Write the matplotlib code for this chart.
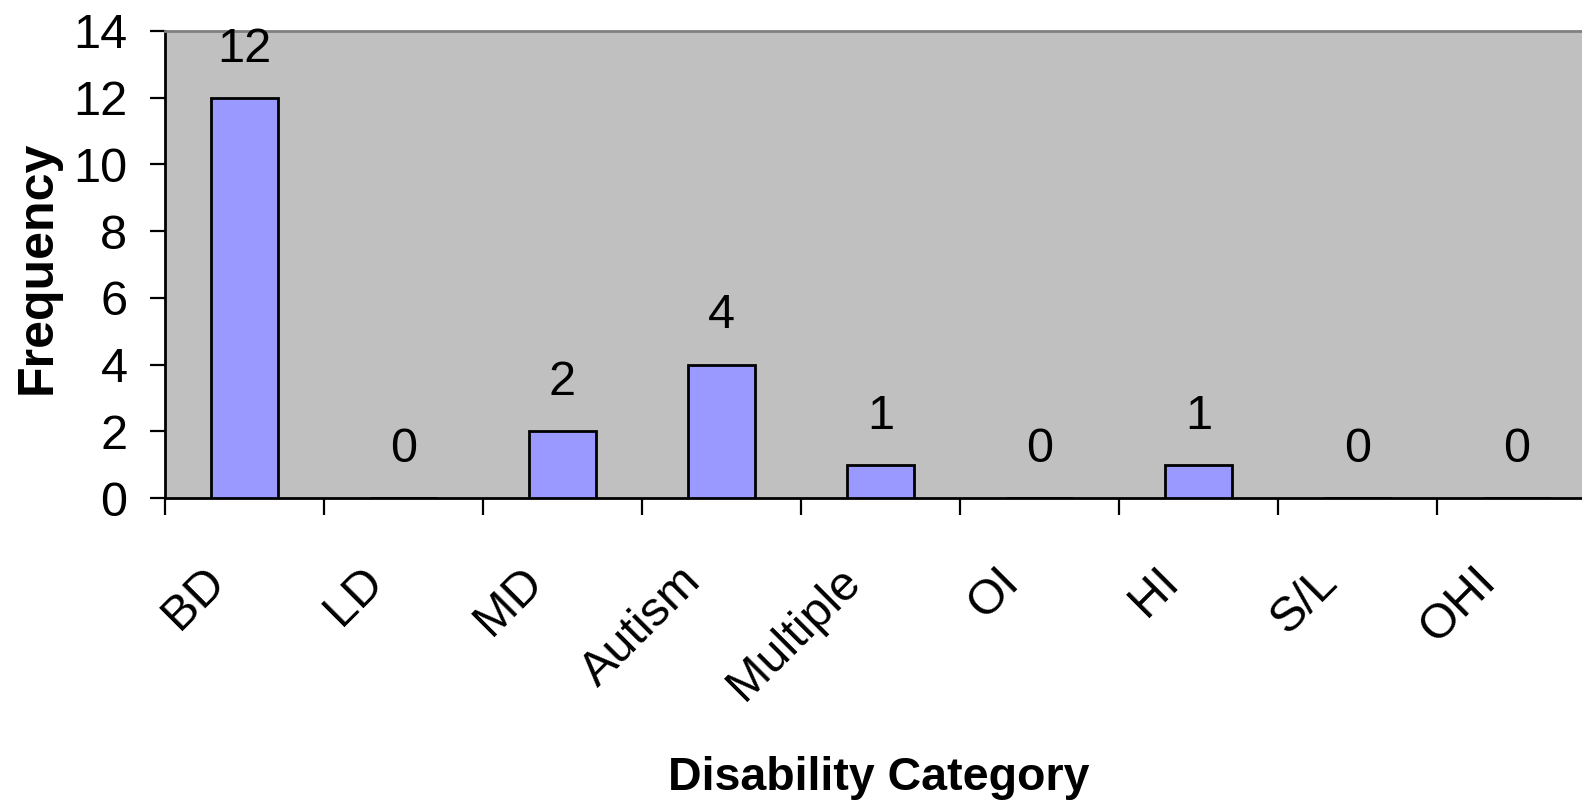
import matplotlib
matplotlib.use("Agg")
import matplotlib.pyplot as plt
from matplotlib.transforms import ScaledTranslation
import numpy as np

categories = ["BD", "LD", "MD", "Autism", "Multiple", "OI", "HI", "S/L", "OHI"]
frequency = [12, 0, 2, 4, 1, 0, 1, 0, 0]
y_ticks = [0, 2, 4, 6, 8, 10, 12, 14]

plt.rcParams['font.family'] = ['Liberation Sans', 'DejaVu Sans']

W, H = 1582, 802
fig = plt.figure(figsize=(W / 100, H / 100), dpi=100)
left_px, top_px, bottom_px, right_px = 165, 31, 498, 1596
ax = fig.add_axes([left_px / W, 1 - bottom_px / H, (right_px - left_px) / W, (bottom_px - top_px) / H])
ax.set_facecolor('#C0C0C0')

x = np.arange(len(categories))
ax.bar(x, frequency, width=0.42, color='#9999FF', edgecolor='black', linewidth=2.0, zorder=3)

for xi, v in zip(x, frequency):
    ax.annotate(str(v), xy=(xi, v), xytext=(0, 26), textcoords='offset points',
                ha='center', va='baseline', fontsize=35, color='black')

ax.set_xlim(-0.5, len(categories) - 0.5)
ax.set_ylim(0, 14)
ax.set_yticks(y_ticks)
ax.tick_params(axis='y', length=11, width=1.6, pad=16, labelsize=35, direction='out')

ax.set_xticks(x)
ax.set_xticklabels(categories)
ax.set_xticks(np.arange(len(categories) + 1) - 0.5, minor=True)
ax.tick_params(axis='x', which='major', length=0, pad=55, labelsize=35)
ax.tick_params(axis='x', which='minor', length=12, width=1.6, direction='out')
offset = ScaledTranslation(-0.27, 0, fig.dpi_scale_trans)
for lab in ax.get_xticklabels():
    lab.set_rotation(45)
    lab.set_ha('right')
    lab.set_va('center')
    lab.set_rotation_mode('anchor')
    lab.set_transform(lab.get_transform() + offset)

for s in ['left', 'bottom']:
    ax.spines[s].set_color('black')
    ax.spines[s].set_linewidth(2.0)
ax.spines['top'].set_color('#808080')
ax.spines['top'].set_linewidth(2.0)
ax.spines['right'].set_visible(False)

fig.text(879 / W, 1 - 790 / H, "Disability Category", ha='center', va='baseline',
         fontsize=33.5, fontweight='bold')
fig.text(38 / W, 1 - 267 / H, "Frequency", ha='center', va='center', rotation=90,
         fontsize=36, fontweight='bold')

fig.savefig('out.png', dpi=100)
